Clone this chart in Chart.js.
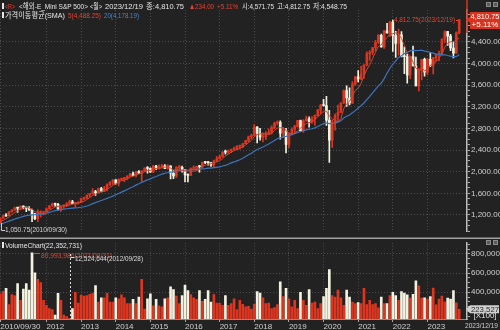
<!DOCTYPE html>
<html lang="ko">
<head>
<meta charset="UTF-8">
<meta name="viewport" content="width=device-width, initial-scale=1.0">
<title>해외-E_Mini S&amp;P 500 월봉</title>
<script src="https://cdn.jsdelivr.net/npm/chart.js"></script>
<style>
    html, body { margin: 0; padding: 0; background-color: #222222; }
    body { width: 500px; height: 330px; position: relative; overflow: hidden; }
    .panel { position: absolute; left: 0; width: 500px; }
    #pricePanel { top: 0; height: 237px; }
    #volumePanel { top: 237px; height: 93px; }
</style>
</head>
<body>
<div class="panel" id="pricePanel"><canvas id="priceChart"></canvas></div>
<div class="panel" id="volumePanel"><canvas id="volumeChart"></canvas></div>

<script>
// 월봉 시가/고가/저가/종가 (2010/09 ~ 2023/12)
const openP = [
    1052, 1141, 1186, 1187,
    1258, 1289, 1329, 1330, 1365, 1345, 1322, 1292, 1220, 1132, 1246, 1250,
    1258, 1312, 1366, 1408, 1398, 1310, 1362, 1379, 1406, 1441, 1412, 1416,
    1426, 1498, 1515, 1569, 1598, 1631, 1606, 1686, 1633, 1682, 1757, 1806,
    1848, 1783, 1859, 1872, 1884, 1924, 1960, 1931, 2003, 1972, 2018, 2068,
    2059, 1995, 2105, 2068, 2086, 2107, 2063, 2104, 1972, 1920, 2079, 2080,
    2044, 1940, 1932, 2060, 2065, 2097, 2092, 2174, 2171, 2168, 2126, 2199,
    2239, 2279, 2364, 2363, 2384, 2412, 2423, 2470, 2471, 2519, 2575, 2647,
    2673, 2823, 2713, 2640, 2648, 2705, 2718, 2816, 2901, 2913, 2711, 2760,
    2506, 2704, 2784, 2834, 2946, 2752, 2942, 2980, 2926, 2977, 3038, 3141,
    3231, 3225, 2954, 2585, 2912, 3044, 3100, 3271, 3500, 3363, 3270, 3622,
    3756, 3714, 3811, 3973, 4181, 4204, 4297, 4395, 4523, 4307, 4605, 4567,
    4766, 4515, 4374, 4530, 4132, 4128, 3785, 4130, 3955, 3586, 3872, 4080,
    3840, 4077, 3970, 4109, 4169, 4180, 4450, 4589, 4508, 4288, 4194, 4571.75
];
const highP = [
    1147, 1196, 1227, 1262,
    1302, 1344, 1333, 1366, 1371, 1346, 1357, 1308, 1230, 1293, 1277, 1269,
    1334, 1378, 1419, 1422, 1415, 1363, 1392, 1427, 1475, 1470, 1434, 1448,
    1512, 1530, 1570, 1598, 1687, 1654, 1698, 1709, 1730, 1775, 1814, 1849,
    1851, 1867, 1884, 1898, 1924, 1968, 1991, 2005, 2019, 2018, 2075, 2093,
    2072, 2119, 2117, 2126, 2135, 2130, 2132, 2113, 2021, 2094, 2117, 2104,
    2044, 1962, 2072, 2111, 2103, 2120, 2178, 2194, 2188, 2169, 2214, 2278,
    2301, 2371, 2401, 2398, 2418, 2454, 2484, 2491, 2519, 2582, 2657, 2695,
    2872, 2835, 2801, 2717, 2742, 2791, 2848, 2916, 2940, 2939, 2815, 2800,
    2708, 2813, 2860, 2949, 2954, 2964, 3028, 3014, 3021, 3050, 3154, 3248,
    3337, 3394, 3137, 2954, 3068, 3233, 3280, 3514, 3588, 3549, 3668, 3760,
    3870, 3950, 3983, 4218, 4238, 4302, 4430, 4537, 4546, 4608, 4743, 4780,
    4805, 4595, 4637, 4593, 4307, 4177, 4140, 4325, 4120, 3905, 4080, 4101,
    4095, 4195, 4110, 4170, 4231, 4458, 4607, 4595, 4541, 4393, 4587, 4812.75
];
const lowP = [
    1050.75, 1131, 1173, 1187,
    1257, 1289, 1249, 1295, 1311, 1259, 1282, 1075, 1114, 1075, 1158, 1202,
    1258, 1312, 1354, 1358, 1291, 1267, 1325, 1354, 1396, 1403, 1343, 1398,
    1426, 1485, 1501, 1536, 1581, 1560, 1604, 1627, 1633, 1646, 1746, 1767,
    1770, 1737, 1834, 1814, 1859, 1915, 1930, 1905, 1964, 1821, 2002, 1972,
    1988, 1980, 2040, 2048, 2068, 2056, 2045, 1867, 1871, 1894, 2020, 1993,
    1812, 1810, 1932, 2034, 2025, 1992, 2074, 2148, 2119, 2097, 2084, 2187,
    2233, 2271, 2323, 2328, 2353, 2405, 2407, 2417, 2446, 2515, 2557, 2605,
    2673, 2532, 2585, 2553, 2594, 2691, 2699, 2796, 2864, 2603, 2631, 2346,
    2443, 2681, 2722, 2825, 2750, 2728, 2935, 2822, 2891, 2855, 3030, 3071,
    3214, 2855, 2174, 2447, 2766, 2936, 3090, 3260, 3209, 3233, 3260, 3594,
    3662, 3700, 3723, 3955, 4056, 4164, 4233, 4367, 4305, 4278, 4560, 4495,
    4222, 4115, 4157, 4124, 3811, 3637, 3721, 3955, 3585, 3492, 3698, 3765,
    3795, 3943, 3808, 4049, 4048, 4167, 4385, 4335, 4238, 4104, 4187, 4548.75
];
const closeP = [
    1138, 1183, 1181, 1258,
    1286, 1327, 1326, 1364, 1345, 1321, 1292, 1219, 1131, 1253, 1250, 1258,
    1312, 1366, 1408, 1398, 1310, 1362, 1379, 1406, 1441, 1412, 1416, 1426,
    1498, 1515, 1569, 1598, 1631, 1606, 1686, 1633, 1682, 1757, 1806, 1848,
    1783, 1859, 1872, 1884, 1924, 1960, 1931, 2003, 1972, 2018, 2068, 2059,
    1995, 2105, 2068, 2086, 2107, 2063, 2104, 1972, 1920, 2079, 2080, 2044,
    1940, 1932, 2060, 2065, 2097, 2092, 2174, 2171, 2168, 2126, 2199, 2239,
    2279, 2364, 2363, 2384, 2412, 2423, 2470, 2471, 2519, 2575, 2647, 2673,
    2823, 2713, 2640, 2648, 2705, 2718, 2816, 2901, 2913, 2711, 2760, 2506,
    2704, 2784, 2834, 2946, 2752, 2942, 2980, 2926, 2977, 3038, 3141, 3231,
    3225, 2954, 2585, 2912, 3044, 3100, 3271, 3500, 3363, 3270, 3622, 3756,
    3714, 3811, 3973, 4181, 4204, 4297, 4395, 4523, 4307, 4605, 4567, 4766,
    4515, 4374, 4530, 4132, 4128, 3785, 4130, 3955, 3586, 3872, 4080, 3840,
    4077, 3970, 4109, 4169, 4180, 4450, 4589, 4508, 4288, 4194, 4568, 4810.75
];
// 거래량 (x100)
const volume = [
    385000, 410000, 440000, 272000,
    377000, 366000, 491000, 316000, 434000, 491000, 424000, 809940, 603000, 536000, 501000, 316000,
    265000, 231000, 221000, 163000, 390000, 316000, 163000, 146000, 125246, 231000, 400000, 288000,
    370000, 360000, 365000, 380000, 390000, 470000, 298000, 343000, 343000, 390000, 298000, 298000,
    343000, 333000, 373000, 343000, 282000, 282000, 326000, 282000, 350000, 536000, 224000, 333000,
    383000, 258000, 326000, 258000, 248000, 333000, 343000, 458000, 427000, 360000, 282000, 366000,
    474000, 417000, 377000, 343000, 326000, 417000, 306000, 326000, 417000, 299000, 377000, 288000,
    288000, 265000, 366000, 265000, 282000, 333000, 221000, 316000, 275000, 248000, 255000, 224000,
    275000, 407000, 393000, 343000, 282000, 288000, 231000, 241000, 272000, 508000, 356000, 440000,
    333000, 248000, 316000, 231000, 400000, 316000, 265000, 427000, 288000, 299000, 231000, 282000,
    356000, 440000, 637000, 366000, 350000, 424000, 343000, 265000, 424000, 350000, 299000, 282000,
    292000, 282000, 440000, 272000, 316000, 272000, 282000, 238000, 350000, 282000, 282000, 366000,
    400000, 366000, 316000, 407000, 393000, 373000, 340000, 380000, 519000, 468000, 340000, 343000,
    330000, 356000, 444000, 270000, 330000, 360000, 300000, 340000, 330000, 417000, 290000, 223527
];
// 이동평균 계산용 이전 종가 (2009/02 ~ 2010/08)
const preCloses = [735, 798, 873, 919, 919, 987, 1021, 1057, 1036, 1096, 1115, 1074, 1104, 1169, 1187, 1089, 1031, 1102, 1049];

const xTickIdx = [0, 16, 28, 40, 52, 64, 76, 88, 100, 112, 124, 136, 148];
const xTickText = ['2010/09/30', '2012', '2013', '2014', '2015', '2016', '2017', '2018', '2019', '2020', '2021', '2022', '2023'];
const priceTicks = [1200, 1600, 2000, 2400, 2800, 3200, 3600, 4000, 4400];
const volumeTicks = [400000, 600000, 800000];

const UP = '#dc3520', DOWN = '#f3f1df';
const RED_TXT = '#e8432e', BLUE_TXT = '#4a84d2';
const GRID = '#4c4c4c', AXIS = '#bdbdbd', TEXT = '#cfcfcf';
const X_MIN = -0.1, X_MAX = 161.7;
const FONT = '"Liberation Sans", Arial, "Noto Sans CJK KR", sans-serif';

Chart.defaults.font.family = FONT;
Chart.defaults.font.size = 8;
Chart.defaults.color = TEXT;

const idx = closeP.map((_, i) => i);
const barColors = closeP.map((c, i) => c >= openP[i] ? UP : DOWN);

function sma(n) {
    const all = preCloses.concat(closeP);
    const off = preCloses.length;
    return closeP.map((_, i) => {
        const j = i + off;
        if (j < n - 1) return null;
        let s = 0;
        for (let k = j - n + 1; k <= j; k++) s += all[k];
        return s / n;
    });
}
const sma5 = sma(5);
const sma20 = sma(20);

function xScale(showLabels) {
    return {
        type: 'linear', min: X_MIN, max: X_MAX, offset: false,
        afterBuildTicks: s => { s.ticks = xTickIdx.map(v => ({ value: v })); },
        afterFit: s => { s.height = showLabels ? 11 : 4; },
        grid: { offset: false, color: GRID, drawTicks: showLabels, tickLength: 3, tickColor: '#a8a8a8' },
        border: { display: showLabels, color: '#8c8c8c', dash: [1, 2] },
        ticks: {
            display: showLabels, autoSkip: false, maxRotation: 0, minRotation: 0,
            align: 'start', padding: 0, color: TEXT,
            callback: v => { const k = xTickIdx.indexOf(v); return k < 0 ? '' : xTickText[k]; }
        }
    };
}

function yScale(min, max, step, labelled, fmt) {
    return {
        position: 'right', min: min, max: max,
        afterBuildTicks: s => {
            const t = [];
            for (let v = Math.ceil(min / step) * step; v <= max; v += step) t.push({ value: v });
            s.ticks = t;
        },
        afterFit: s => { s.width = 33; },
        grid: {
            color: c => (c.tick && labelled.includes(c.tick.value)) ? GRID : 'transparent',
            tickLength: 3, tickColor: '#a8a8a8'
        },
        border: { color: AXIS, width: 1.5, dash: [1, 2] },
        ticks: { padding: 1, color: TEXT, autoSkip: false, callback: v => labelled.includes(v) ? fmt(v) : '' }
    };
}

function put(ctx, s, x, y, color, w, align) {
    ctx.fillStyle = color;
    ctx.textAlign = align || 'left';
    if (w) ctx.fillText(s, x, y, w); else ctx.fillText(s, x, y);
}

const priceText = {
    id: 'priceText',
    afterDraw(chart) {
        const { ctx, scales: { x, y } } = chart;
        ctx.save();
        ctx.font = '8px ' + FONT;
        ctx.textBaseline = 'alphabetic';

        // 헤더 1행
        ctx.fillStyle = '#e6e6e6';
        ctx.fillRect(2, 3, 2, 6);
        put(ctx, '<R>', 5, 9, RED_TXT, 10);
        put(ctx, '<해외-E_Mini S&P 500>', 19, 9, '#e6e6e6', 69);
        put(ctx, '<월>', 90, 9, '#e6e6e6', 12);
        put(ctx, '2023/12/19', 105, 9, '#e6e6e6', 38);
        put(ctx, '종:4,810.75', 146, 9, '#e6e6e6', 38);
        put(ctx, '▲234.00', 189, 9, RED_TXT, 25);
        put(ctx, '+5.11%', 217, 9, RED_TXT, 21);
        put(ctx, '시:4,571.75', 242, 9, '#e6e6e6', 32);
        put(ctx, '고:4,812.75', 277, 9, '#e6e6e6', 33);
        put(ctx, '저:4,548.75', 313, 9, '#e6e6e6', 34);

        // 헤더 2행
        ctx.fillStyle = '#e6e6e6';
        ctx.fillRect(2, 12, 2, 6);
        put(ctx, '가격이동평균(SMA)', 5, 18, '#e6e6e6', 60);
        put(ctx, '5(4,488.25)', 68, 18, RED_TXT, 33);
        put(ctx, '20(4,178.19)', 104, 18, BLUE_TXT, 35);

        // 창 버튼
        ctx.strokeStyle = '#8a8a8a';
        ctx.fillStyle = '#5a5a5a';
        ctx.fillRect(486, 2, 5, 5); ctx.strokeRect(486.5, 2.5, 4, 4);
        ctx.fillRect(493, 2, 5, 5); ctx.strokeRect(493.5, 2.5, 4, 4);

        // 최고가 표시
        const last = closeP.length - 1;
        const hx = x.getPixelForValue(last);
        const hy = y.getPixelForValue(highP[last]);
        put(ctx, '4,812.75(2023/12/19)', 455, hy + 2.5, RED_TXT, 61, 'right');
        ctx.strokeStyle = RED_TXT;
        ctx.lineWidth = 1;
        ctx.beginPath();
        ctx.moveTo(456, Math.round(hy) + 0.5);
        ctx.lineTo(hx - 1, Math.round(hy) + 0.5);
        ctx.stroke();

        // 최저가 표시
        const lx = Math.max(1.5, x.getPixelForValue(0));
        const ly = y.getPixelForValue(lowP[0]);
        ctx.strokeStyle = '#d0d0d0';
        ctx.beginPath();
        ctx.moveTo(lx, ly);
        ctx.lineTo(lx, 230.5);
        ctx.lineTo(5, 230.5);
        ctx.stroke();
        put(ctx, '1,050.75(2010/09/30)', 5, 232, '#d6d6d6', 62);

        // 현재가 박스
        const cy = y.getPixelForValue(closeP[last]);
        ctx.strokeStyle = '#d7341f';
        ctx.lineWidth = 1.5;
        ctx.beginPath();
        ctx.moveTo(467, 0);
        ctx.lineTo(467, 33);
        ctx.stroke();
        ctx.fillStyle = '#d7341f';
        ctx.beginPath();
        ctx.moveTo(466, cy);
        ctx.lineTo(470, cy - 3);
        ctx.lineTo(470, 12);
        ctx.lineTo(500, 12);
        ctx.lineTo(500, 29);
        ctx.lineTo(470, 29);
        ctx.lineTo(470, cy + 3);
        ctx.closePath();
        ctx.fill();
        put(ctx, '4,810.75', 485, 19, '#ffffff', 29, 'center');
        put(ctx, '+5.11%', 485, 27, '#ffffff', 29, 'center');
        ctx.restore();
    }
};

const volumeText = {
    id: 'volumeText',
    afterDraw(chart) {
        const { ctx, scales: { x, y } } = chart;
        ctx.save();
        ctx.font = '8px ' + FONT;
        ctx.textBaseline = 'alphabetic';

        // 패널 구분선
        ctx.strokeStyle = '#a0a0a0';
        ctx.lineWidth = 1.5;
        ctx.beginPath();
        ctx.moveTo(0, 1.2);
        ctx.lineTo(500, 1.2);
        ctx.stroke();

        ctx.fillStyle = '#e6e6e6';
        ctx.fillRect(2, 5, 2, 6);
        put(ctx, 'VolumeChart(22,352,731)', 5, 11, '#e6e6e6', 77);

        // 창 버튼
        ctx.strokeStyle = '#8a8a8a';
        ctx.lineWidth = 1;
        ctx.fillStyle = '#5a5a5a';
        ctx.fillRect(486, 3, 5, 5); ctx.strokeRect(486.5, 3.5, 4, 4);
        ctx.fillRect(493, 3, 5, 5); ctx.strokeRect(493.5, 3.5, 4, 4);

        // 최대 거래량
        const maxI = volume.indexOf(Math.max(...volume));
        const mx = x.getPixelForValue(maxI);
        const my = Math.round(y.getPixelForValue(volume[maxI])) + 0.5;
        ctx.strokeStyle = RED_TXT;
        ctx.beginPath();
        ctx.moveTo(mx + 1.5, my);
        ctx.lineTo(40, my);
        ctx.stroke();
        put(ctx, '80,993,986(2011/08/31)', 41, my + 4, RED_TXT, 71);

        // 최소 거래량
        const minI = volume.indexOf(Math.min(...volume));
        const nx = Math.round(x.getPixelForValue(minI)) + 0.5;
        ctx.strokeStyle = '#dcdcdc';
        ctx.setLineDash([2, 2]);
        ctx.beginPath();
        ctx.moveTo(nx, 17);
        ctx.lineTo(nx, y.getPixelForValue(volume[minI]));
        ctx.stroke();
        ctx.setLineDash([]);
        ctx.beginPath();
        ctx.moveTo(nx, 20.5);
        ctx.lineTo(nx + 4, 20.5);
        ctx.stroke();
        put(ctx, '12,524,644(2012/09/28)', 75, 24, '#dcdcdc', 68);

        // 현재 거래량 박스
        const last = volume.length - 1;
        const vy = y.getPixelForValue(volume[last]);
        ctx.fillStyle = '#cfcfcf';
        ctx.beginPath();
        ctx.moveTo(466, vy);
        ctx.lineTo(470, vy - 4);
        ctx.lineTo(499, vy - 4);
        ctx.lineTo(499, vy + 4);
        ctx.lineTo(470, vy + 4);
        ctx.closePath();
        ctx.fill();
        put(ctx, '223,527', 485, vy + 3, '#2a2a2a', 28, 'center');
        put(ctx, '[X100]', 485, 81, '#e6e6e6', 26, 'center');

        // 마지막 날짜
        ctx.font = '7.5px ' + FONT;
        put(ctx, '2023/12/19', 465, 91, '#cfcfcf', 33);
        ctx.restore();
    }
};

new Chart(document.getElementById('priceChart'), {
    type: 'bar',
    data: {
        datasets: [
            {
                type: 'line', label: 'SMA5',
                data: idx.map(i => ({ x: i, y: sma5[i] })),
                borderColor: '#cf4630', borderWidth: 1, pointRadius: 0, order: 0
            },
            {
                type: 'line', label: 'SMA20',
                data: idx.map(i => ({ x: i, y: sma20[i] })),
                borderColor: '#3d74bb', borderWidth: 1.2, pointRadius: 0, order: 0
            },
            {
                label: '몸통',
                data: idx.map(i => ({ x: i, y: [openP[i], closeP[i]] })),
                backgroundColor: barColors, borderWidth: 0,
                barThickness: 2, minBarLength: 1, grouped: false, order: 1
            },
            {
                label: '꼬리',
                data: idx.map(i => ({ x: i, y: [lowP[i], highP[i]] })),
                backgroundColor: barColors, borderWidth: 0,
                barThickness: 1, grouped: false, order: 2
            }
        ]
    },
    options: {
        responsive: true,
        maintainAspectRatio: false,
        animation: false,
        events: [],
        layout: { padding: { top: 10, left: 0, right: 0, bottom: 0 } },
        plugins: { legend: { display: false }, tooltip: { enabled: false } },
        scales: {
            x: xScale(false),
            y: yScale(900, 4990, 100, priceTicks,
                v => v.toLocaleString('en-US', { minimumFractionDigits: 2, maximumFractionDigits: 2 }))
        }
    },
    plugins: [priceText]
});

new Chart(document.getElementById('volumeChart'), {
    type: 'bar',
    data: {
        datasets: [
            {
                label: 'Volume',
                data: idx.map(i => ({ x: i, y: volume[i] })),
                backgroundColor: barColors, borderWidth: 0,
                barThickness: 2, grouped: false
            }
        ]
    },
    options: {
        responsive: true,
        maintainAspectRatio: false,
        animation: false,
        events: [],
        layout: { padding: { top: 4, left: 0, right: 0, bottom: 0 } },
        plugins: { legend: { display: false }, tooltip: { enabled: false } },
        scales: {
            x: xScale(true),
            y: yScale(122000, 915000, 50000, volumeTicks, v => v.toLocaleString('en-US'))
        }
    },
    plugins: [volumeText]
});
</script>
</body>
</html>
